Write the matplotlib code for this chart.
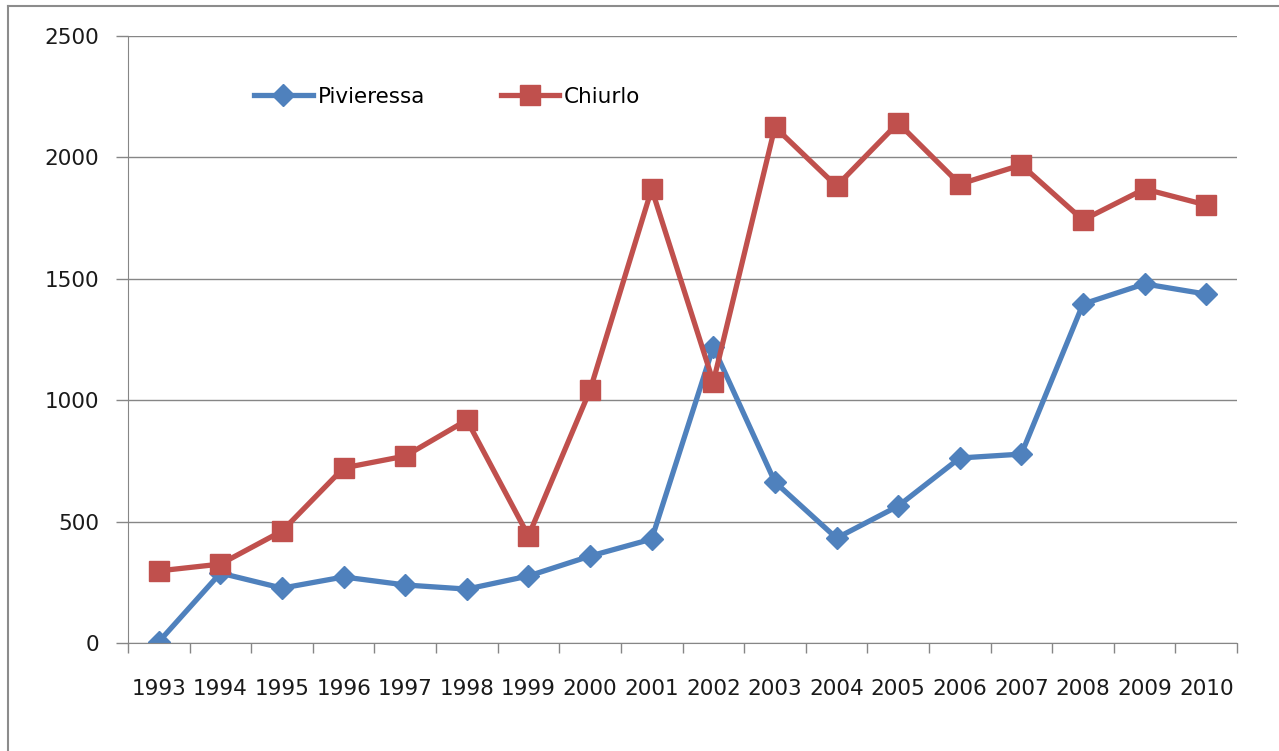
import matplotlib.pyplot as plt
from matplotlib.lines import Line2D

years = ['1993', '1994', '1995', '1996', '1997', '1998', '1999', '2000', '2001',
         '2002', '2003', '2004', '2005', '2006', '2007', '2008', '2009', '2010']
pivieressa = [5, 288, 226, 272, 239, 222, 276, 358, 428,
              1219, 663, 432, 564, 762, 778, 1396, 1479, 1437]
chiurlo = [297, 325, 461, 721, 770, 918, 441, 1042, 1870,
           1075, 2125, 1882, 2142, 1890, 1969, 1742, 1870, 1804]

plt.rcParams['font.family'] = ['DejaVu Sans']

fig = plt.figure(figsize=(12.79, 7.51), dpi=100)
ax = fig.add_axes([128 / 1279, 108 / 751, (1237 - 128) / 1279, (643 - 36) / 751])

grey = '#868686'
x = list(range(len(years)))
ax.plot(x, pivieressa, color='#4F81BD', lw=3.8, marker='D', markersize=11,
        label='Pivieressa', solid_joinstyle='round')
ax.plot(x, chiurlo, color='#C0504D', lw=3.8, marker='s', markersize=14,
        label='Chiurlo', solid_joinstyle='round')

ax.set_xlim(-0.5, len(years) - 0.5)
ax.set_ylim(0, 2500)
ax.set_yticks(range(0, 2501, 500))
ax.yaxis.grid(True, color=grey, lw=1)
ax.set_axisbelow(True)

# category ticks sit between the points, labels in the middle
ax.set_xticks([i - 0.5 for i in range(len(years) + 1)])
ax.set_xticklabels([])
ax.set_xticks(x, minor=True)
ax.set_xticklabels(years, minor=True, fontsize=15.5, color='#1a1a1a')
ax.tick_params(axis='x', which='major', length=7, width=1, color=grey, direction='out')
ax.tick_params(axis='x', which='minor', length=0, pad=26)
ax.tick_params(axis='y', length=9, width=1, color=grey, labelsize=15.5,
               labelcolor='#1a1a1a', pad=12)

for s in ['top', 'right']:
    ax.spines[s].set_visible(False)
ax.spines['left'].set_color(grey)
ax.spines['bottom'].set_color(grey)

fig.legend(loc='center left', bbox_to_anchor=(235 / 1279, 1 - 97 / 751), ncol=2,
           frameon=False, fontsize=15.5, handlelength=2.7, handletextpad=0.25,
           columnspacing=3.5)

# outer chart border
fig.add_artist(Line2D([8 / 1279, 8 / 1279], [0, 1 - 6 / 751], color='#8c8c8c', lw=1.5))
fig.add_artist(Line2D([8 / 1279, 1], [1 - 6 / 751, 1 - 6 / 751], color='#8c8c8c', lw=1.5))

fig.savefig('out.png', dpi=100)
